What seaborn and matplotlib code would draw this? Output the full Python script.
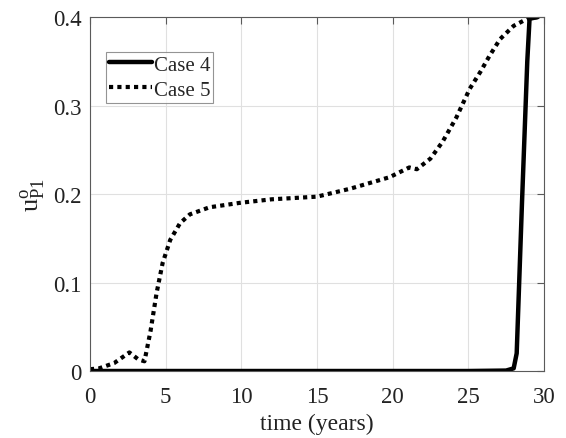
import matplotlib
matplotlib.use("Agg")
import matplotlib.pyplot as plt
import seaborn as sns
import pandas as pd

# Case 4 (solid)
t_case4 = [0.0, 5.0, 10.0, 15.0, 20.0, 25.0, 27.5, 28.0, 28.2, 28.55, 28.9, 29.05, 29.6]
u_case4 = [0.0, 0.0, 0.0, 0.0, 0.0, 0.0, 0.0005, 0.003, 0.02, 0.19, 0.35, 0.398, 0.4]

# Case 5 (dotted)
t_case5 = [0.0, 0.6, 1.6, 2.6, 3.2, 3.6, 4.0, 4.4, 4.8, 5.3, 5.95, 6.6, 7.9, 9.9,
           12.0, 15.0, 17.2, 19.8, 21.1, 21.6, 22.5, 23.3, 24.2, 25.1, 25.8,
           26.4, 27.1, 28.0, 28.9, 29.6]
u_case5 = [0.002, 0.003, 0.009, 0.021, 0.013, 0.011, 0.045, 0.088, 0.122, 0.148,
           0.167, 0.177, 0.185, 0.190, 0.194, 0.197, 0.206, 0.219, 0.230, 0.228,
           0.240, 0.259, 0.286, 0.319, 0.338, 0.356, 0.375, 0.390, 0.398, 0.400]

x_ticks = [0, 5, 10, 15, 20, 25, 30]
y_ticks = [0, 0.1, 0.2, 0.3, 0.4]
y_tick_labels = ["0", "0.1", "0.2", "0.3", "0.4"]

sns.set_style("white")
plt.rcParams['font.family'] = ['Liberation Serif', 'DejaVu Serif']
plt.rcParams['mathtext.fontset'] = 'stix'

df4 = pd.DataFrame({"t": t_case4, "u": u_case4})
df5 = pd.DataFrame({"t": t_case5, "u": u_case5})

fig = plt.figure(figsize=(5.66, 4.39), dpi=100)
ax = fig.add_axes([0.159, 0.1526, 0.802, 0.8064])

sns.lineplot(data=df4, x="t", y="u", ax=ax, color="black", linewidth=3.2,
             label="Case 4", estimator=None, sort=False)
sns.lineplot(data=df5, x="t", y="u", ax=ax, color="black", linewidth=3.0,
             linestyle=(0, (1, 1)), label="Case 5", estimator=None, sort=False)

ax.set_xlim(0, 30)
ax.set_ylim(0, 0.4)
ax.set_xticks(x_ticks)
ax.set_yticks(y_ticks)
ax.set_yticklabels(y_tick_labels)
ax.grid(True, color="#e0e0e0", linewidth=0.8)
ax.set_axisbelow(True)
for s in ax.spines.values():
    s.set_color("#5a5a5a")
    s.set_linewidth(0.8)
    s.set_visible(True)
ax.tick_params(direction="in", length=5, width=0.8, color="#5a5a5a",
               top=True, right=True, labelsize=16.5, labelcolor="#222222")
ax.tick_params(axis="x", pad=11)
ax.tick_params(axis="y", pad=6)

ax.set_xlabel("time (years)", fontsize=17, color="#222222", labelpad=4)
ax.set_ylabel(r"$\mathregular{u^{o}_{P1}}$", fontsize=19, color="#222222", labelpad=4)

leg = ax.legend(loc="upper left", bbox_to_anchor=(0.035, 0.901), fontsize=15,
                frameon=True, fancybox=False, edgecolor="#7a7a7a",
                handlelength=2.05, handletextpad=0.1, borderpad=0.15,
                labelspacing=0.25, borderaxespad=0)
leg.get_frame().set_linewidth(0.8)

fig.savefig("out.png", dpi=100)
